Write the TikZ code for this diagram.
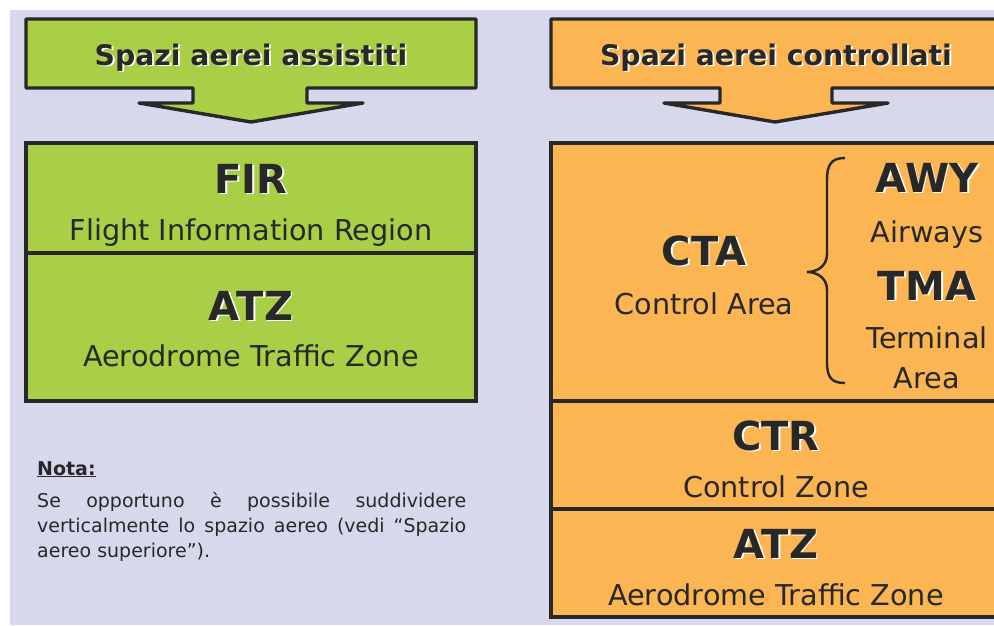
\documentclass[tikz,border=0pt]{standalone}
\usepackage{fontspec}
\setmainfont{DejaVu Sans}
\definecolor{lavender}{RGB}{216,216,236}
\definecolor{grass}{RGB}{168,207,70}
\definecolor{apricot}{RGB}{251,181,83}
\definecolor{ink}{RGB}{40,40,40}

\tikzset{
  panel/.style={draw=ink,line width=3.4pt},
  heading/.style={font=\fontsize{28.3}{30}\selectfont\bfseries,text=ink,anchor=base,inner sep=0pt},
  tag/.style={font=\fontsize{40}{40}\selectfont\bfseries,text=ink,anchor=base,inner sep=0pt},
  caption/.style={font=\fontsize{28.7}{30}\selectfont,text=ink,anchor=base,inner sep=0pt},
}
% bold label with a white shadow behind it
\newcommand{\shadowlabel}[4]{%
  \node[#1,text=white,xshift=1.8pt,yshift=-1.8pt] (#2-s) at (#3) {#4};
  \node[#1] (#2) at (#3) {#4};}

\begin{document}
\begin{tikzpicture}[x=1pt,y=-1pt]
\useasboundingbox (0,0) rectangle (994,625);
\fill[white] (0,0) rectangle (994,625);
\fill[lavender] (10,10) rectangle (994,625);

% headers
\draw[panel,fill=grass,line join=round] (26,19) -- (476,19) -- (476,88) -- (307,88) -- (307,103) -- (363,103) -- (251,122) -- (139,103) -- (193,103) -- (193,88) -- (26,88) -- cycle;
\draw[panel,fill=apricot,line join=round] (551,19) -- (1002,19) -- (1002,88) -- (832,88) -- (832,103) -- (888,103) -- (775,122) -- (664,103) -- (720,103) -- (720,88) -- (551,88) -- cycle;
\shadowlabel{heading}{assistiti}{251,65}{Spazi aerei assistiti}
\shadowlabel{heading}{controllati}{776,65}{Spazi aerei controllati}

% left column
\draw[panel,fill=grass] (26,143) rectangle (476,401);
\draw[panel] (26,253) -- (476,253);
\shadowlabel{tag}{fir}{251,193}{FIR}
\node[caption] (fir-text) at (251,240) {Flight Information Region};
\shadowlabel{tag}{atz-l}{251,320}{ATZ}
\node[caption] (atz-l-text) at (251,366) {Aerodrome Traffic Zone};

% right column
\draw[panel,fill=apricot] (551,143) rectangle (1002,617);
\draw[panel] (551,401) -- (1002,401);
\draw[panel] (551,509) -- (1002,509);
\shadowlabel{tag}{cta}{704,265}{CTA}
\node[caption] (cta-text) at (704,314) {Control Area};
\draw[ink,line width=2.4pt] (845,158) .. controls (831,158) and (827,165) .. (827,180) -- (827,254) .. controls (827,267) and (816,272) .. (807,272) .. controls (816,272) and (827,277) .. (827,290) -- (827,362) .. controls (827,377) and (831,383) .. (845,383);
\shadowlabel{tag}{awy}{927,192}{AWY}
\node[caption] (awy-text) at (927,242) {Airways};
\shadowlabel{tag}{tma}{927,300}{TMA}
\node[caption] (tma-text) at (927,348) {Terminal};
\node[caption] (tma-text2) at (927,388) {Area};
\shadowlabel{tag}{ctr}{776,450}{CTR}
\node[caption] (ctr-text) at (776,497) {Control Zone};
\shadowlabel{tag}{atz-r}{776,558}{ATZ}
\node[caption] (atz-r-text) at (776,605) {Aerodrome Traffic Zone};

% note
\node[font=\fontsize{19}{25}\selectfont\bfseries,text=ink,anchor=base west,inner sep=0pt] (nota) at (37,475) {\underline{Nota:}};
\node[font=\fontsize{19}{25}\selectfont,text=ink,anchor=base west,inner sep=0pt,text width=429pt,align=justify] (nota-text) at (37,507)
  {\hyphenpenalty=10000 Se opportuno è possibile suddividere\linebreak verticalmente lo spazio aereo (vedi “Spazio\linebreak aereo superiore”).};
\end{tikzpicture}
\end{document}
